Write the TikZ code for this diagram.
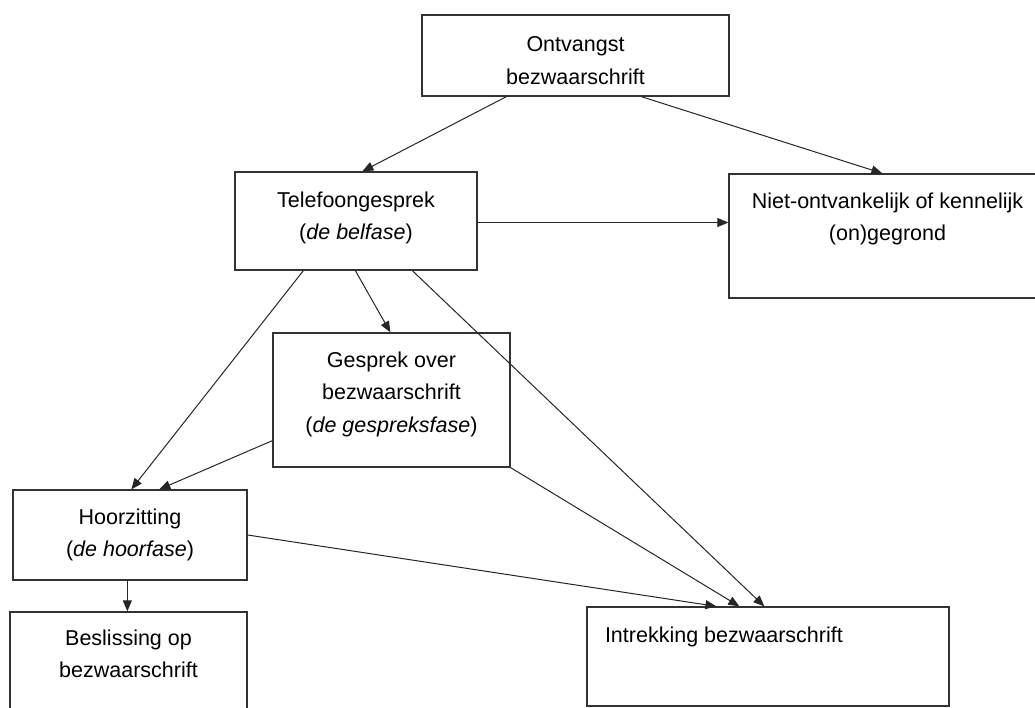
\documentclass[tikz,border=0pt]{standalone}
\usepackage{fontspec}
\setmainfont{Liberation Sans}
\usetikzlibrary{arrows.meta}
\newcommand{\bxt}[4]{\parbox[c][#2pt][t]{#1pt}{\vspace*{#3pt}\centering #4\par}}
\newcommand{\bxl}[5]{\parbox[c][#2pt][t]{#1pt}{\vspace*{#3pt}\hspace*{#4pt}#5\par}}
\begin{document}
\begin{tikzpicture}[x=1pt,y=-1pt,
  box/.style={draw=black!80,line width=1.3pt,inner sep=0pt,rectangle},
  arr/.style={draw=black!85,line width=1pt,-{Triangle[length=11pt,width=9pt]}},
  font=\fontsize{21.5pt}{32.5pt}\selectfont]
\clip (0,0) rectangle (1035,707);
\node[box] (top)  at (575.5,55.5) {\bxt{307}{81}{21.5}{Ontvangst\\bezwaarschrift}};
\node[box] (tel)  at (356,221)    {\bxt{242}{98}{19.5}{Telefoongesprek\\(\textit{de belfase})}};
\node[box] (niet) at (887.5,236)  {\bxt{317}{124}{18.5}{Niet-ontvankelijk of kennelijk\\(on)gegrond}};
\node[box] (gesp) at (391.5,400)  {\bxt{237}{134}{18.5}{Gesprek over\\bezwaarschrift\\(\textit{de gespreksfase})}};
\node[box] (hoor) at (130,535)    {\bxt{234}{90}{18.5}{Hoorzitting\\(\textit{de hoorfase})}};
\node[box] (besl) at (128.5,666)  {\bxt{237}{108}{17.5}{Beslissing op\\bezwaarschrift}};
\node[box] (intr) at (768,656.5)  {\bxl{362}{99}{19.5}{18}{Intrekking bezwaarschrift}};
% connectors
\draw[arr] ([xshift=85pt]top.south west) -- ([xshift=128pt]tel.north west);
\draw[arr] ([xshift=220pt]top.south west) -- ([xshift=154pt]niet.north west);
\draw[arr] ([yshift=-1.5pt]tel.east) -- ([yshift=13.5pt]niet.west);
\draw[arr] ([xshift=69pt]tel.south west) -- ([xshift=119pt]hoor.north west);
\draw[arr] ([xshift=121pt]tel.south west) -- ([xshift=118pt]gesp.north west);
\draw[arr] ([xshift=178pt]tel.south west) -- ([xshift=178pt]intr.north west);
\draw[arr] ([yshift=27pt]gesp.south west) -- ([xshift=147pt]hoor.north west);
\draw[arr] (gesp.south east) -- ([xshift=153pt]intr.north west);
\draw[arr] (hoor.east) -- ([xshift=130pt]intr.north west);
\draw[arr] ([xshift=115pt]hoor.south west) -- ([xshift=118pt]besl.north west);
\end{tikzpicture}
\end{document}
